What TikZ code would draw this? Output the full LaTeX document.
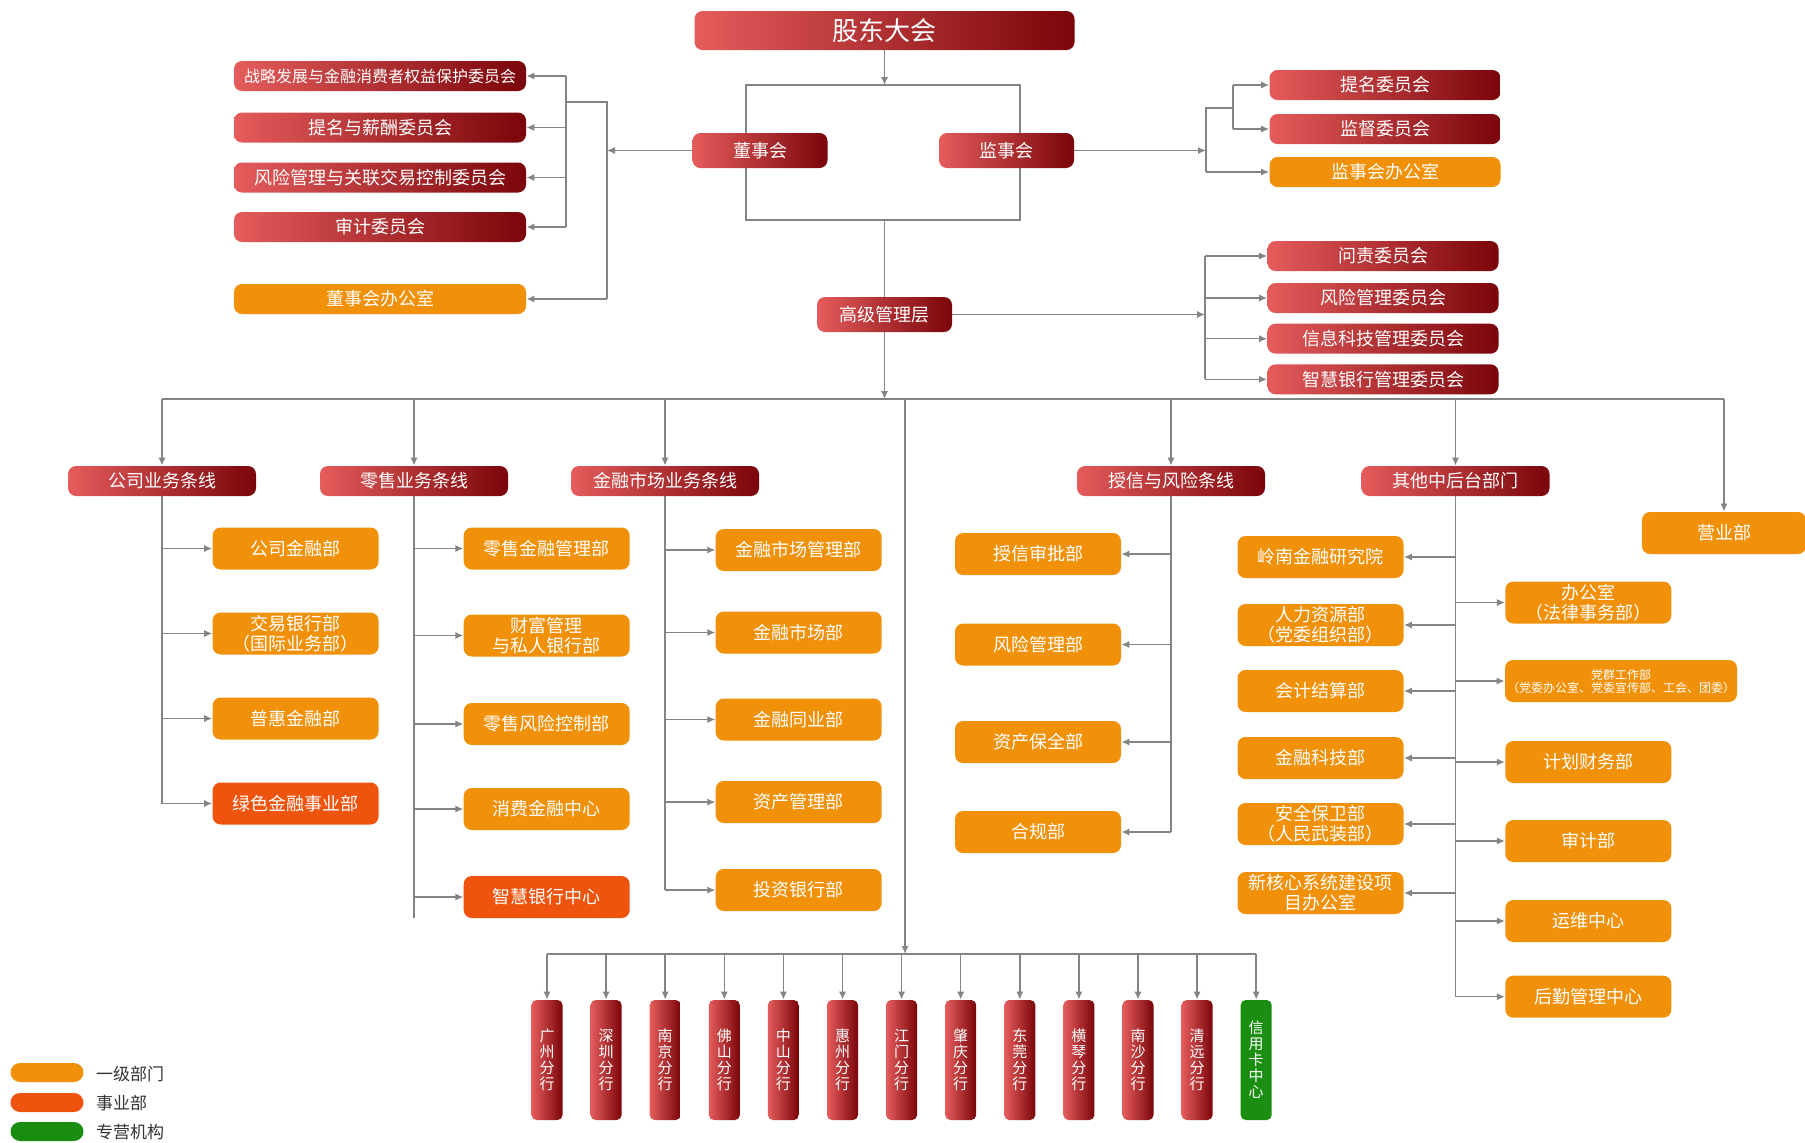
\documentclass[tikz,border=0pt]{standalone}
\usepackage{fontspec}
\setmainfont{Noto Sans CJK SC}
\usepackage{xcolor}
\usepackage{tikz}
\usetikzlibrary{arrows.meta,calc,backgrounds}
\definecolor{redL}{RGB}{229,92,92}
\definecolor{redR}{RGB}{122,5,10}
\definecolor{deptorange}{RGB}{241,145,10}
\definecolor{unitorange}{RGB}{238,84,14}
\definecolor{cardgreen}{RGB}{26,142,16}
\definecolor{linkgray}{RGB}{132,132,132}

\begin{document}
\begin{tikzpicture}[
  x=0.5pt,y=-0.5pt,
  font=\fontsize{9}{10}\selectfont,
  board/.style={rounded corners=4pt, left color=redL, right color=redR,
                text=white, align=center, inner sep=0pt},
  committee/.style={board, minimum width=146pt, minimum height=15pt},
  rcommittee/.style={board, minimum width=115.5pt, minimum height=15pt},
  organ/.style={board, minimum width=67.5pt, minimum height=17.5pt},
  bline/.style={board, minimum width=94pt, minimum height=15pt},
  dept/.style={rounded corners=4pt, fill=deptorange, text=white,
               align=center, inner sep=0pt, minimum width=83pt, minimum height=21pt},
  unit/.style={dept, fill=unitorange},
  branch/.style={board, rounded corners=2.5pt, minimum width=15.5pt,
                 minimum height=60pt, font=\fontsize{7.5}{8}\selectfont},
  card/.style={rounded corners=2.5pt, fill=cardgreen, text=white, align=center,
               inner sep=0pt, minimum width=15.5pt, minimum height=60pt,
               font=\fontsize{7.5}{8}\selectfont},
  pill/.style={rounded corners=4.75pt, minimum width=36.5pt, minimum height=9.5pt, inner sep=0pt},
  legendtext/.style={anchor=west, text=black!80, font=\fontsize{8.5}{10}\selectfont},
  line/.style={line width=0.75pt, draw=linkgray},
  arr/.style={-{Latex[length=4pt,width=3.6pt]}, line width=0.75pt, draw=linkgray}
]
\useasboundingbox (0,0) rectangle (1805,1142);

\node[board, minimum width=190pt, minimum height=19.5pt,
      font=\fontsize{13}{15}\selectfont] (gudong) at (884.5,30.5) {股东大会};
\node[organ] (dongshi) at (760,150.5) {董事会};
\node[organ] (jianshi) at (1006.5,150.5) {监事会};
\node[organ] (gaoguan) at (884.5,314.5) {高级管理层};

% board committees
\node[committee, font=\fontsize{8}{9}\selectfont] (dwy1) at (380,76) {战略发展与金融消费者权益保护委员会};
\node[committee] (dwy2) at (380,127.5) {提名与薪酬委员会};
\node[committee] (dwy3) at (380,177.5) {风险管理与关联交易控制委员会};
\node[committee] (dwy4) at (380,227) {审计委员会};
\node[dept, minimum width=146pt, minimum height=15pt] (dban) at (380,299) {董事会办公室};

% supervisory committees
\node[rcommittee] (jwy1) at (1385,85) {提名委员会};
\node[rcommittee] (jwy2) at (1385,129) {监督委员会};
\node[dept, minimum width=115.5pt, minimum height=15pt] (jban) at (1385,172) {监事会办公室};

% management committees
\node[rcommittee] (gwy1) at (1383,256) {问责委员会};
\node[rcommittee] (gwy2) at (1383,298) {风险管理委员会};
\node[rcommittee] (gwy3) at (1383,338.7) {信息科技管理委员会};
\node[rcommittee] (gwy4) at (1383,379.3) {智慧银行管理委员会};

% business lines
\node[bline] (gongsi) at (162,481) {公司业务条线};
\node[bline] (lingshou) at (414,481) {零售业务条线};
\node[bline] (jinrong) at (665,481) {金融市场业务条线};
\node[bline] (shouxin) at (1171,481) {授信与风险条线};
\node[bline] (qita) at (1455.5,481) {其他中后台部门};
\node[dept, minimum width=82pt] (yingye) at (1724,533) {营业部};

\node[dept] (gs1) at (295.6,548.5) {公司金融部};
\node[dept] (gs2) at (295.6,633.5) {交易银行部\\（国际业务部）};
\node[dept] (gs3) at (295.6,718.5) {普惠金融部};
\node[unit] (gs4) at (295.6,803.5) {绿色金融事业部};

\node[dept] (ls1) at (546.7,548.5) {零售金融管理部};
\node[dept] (ls2) at (546.7,635.5) {财富管理\\与私人银行部};
\node[dept] (ls3) at (546.7,724) {零售风险控制部};
\node[dept] (ls4) at (546.7,809) {消费金融中心};
\node[unit] (ls5) at (546.7,897) {智慧银行中心};

\node[dept] (jr1) at (798.7,550) {金融市场管理部};
\node[dept] (jr2) at (798.7,632.5) {金融市场部};
\node[dept] (jr3) at (798.7,719.5) {金融同业部};
\node[dept] (jr4) at (798.7,802) {资产管理部};
\node[dept] (jr5) at (798.7,890) {投资银行部};

\node[dept] (sx1) at (1038,554) {授信审批部};
\node[dept] (sx2) at (1038,644.5) {风险管理部};
\node[dept] (sx3) at (1038,742) {资产保全部};
\node[dept] (sx4) at (1038,832) {合规部};

\node[dept] (ql1) at (1320.5,557) {岭南金融研究院};
\node[dept] (ql2) at (1320.5,625) {人力资源部\\（党委组织部）};
\node[dept] (ql3) at (1320.5,691) {会计结算部};
\node[dept] (ql4) at (1320.5,758) {金融科技部};
\node[dept] (ql5) at (1320.5,824) {安全保卫部\\（人民武装部）};
\node[dept] (ql6) at (1320.5,893) {新核心系统建设项\\目办公室};

\node[dept] (qr1) at (1588.3,602.5) {办公室\\（法律事务部）};
\node[dept, minimum width=116pt, font=\fontsize{6}{6.5}\selectfont] (qr2) at (1621,681)
  {党群工作部\\（党委办公室、党委宣传部、工会、团委）};
\node[dept] (qr3) at (1588.3,762) {计划财务部};
\node[dept] (qr4) at (1588.3,841) {审计部};
\node[dept] (qr5) at (1588.3,921) {运维中心};
\node[dept] (qr6) at (1588.3,996.7) {后勤管理中心};

% branches
\foreach \city [count=\i from 0] in {广\\州\\分\\行, 深\\圳\\分\\行, 南\\京\\分\\行,
    佛\\山\\分\\行, 中\\山\\分\\行, 惠\\州\\分\\行, 江\\门\\分\\行, 肇\\庆\\分\\行,
    东\\莞\\分\\行, 横\\琴\\分\\行, 南\\沙\\分\\行, 清\\远\\分\\行}
  \node[branch] (br\i) at (547+\i*59.1,1060) {\city};
\node[card] (card) at (1256.2,1060) {信\\用\\卡\\中\\心};

% legend
\node[pill, fill=deptorange] (lg1) at (47,1072.5) {};
\node[pill, fill=unitorange] (lg2) at (47,1102.5) {};
\node[pill, fill=cardgreen] (lg3) at (47,1131.5) {};
\node[legendtext] (lgt1) at (89,1074) {一级部门};
\node[legendtext] (lgt2) at (89,1103) {事业部};
\node[legendtext] (lgt3) at (89,1132) {专营机构};

\begin{scope}[on background layer]
% top frame
\coordinate (ringNW) at (746,85);
\coordinate (ringSE) at (1020,220);
\draw[line] (ringNW) rectangle (ringSE);
\draw[arr] (gudong.south) -- (gudong.south |- ringNW);
\draw[line] (gudong.south |- ringSE) -- (gaoguan.north);

% board side
\coordinate (dOut) at (607,102);
\coordinate (dIn) at (566,102);
\draw[arr] (dongshi.west) -- (dongshi.west -| dOut);
\draw[line] (dIn) -- (dOut) -- (dOut |- dban);
\draw[arr] (dOut |- dban) -- (dban.east);
\draw[line] (dIn |- dwy1) -- (dIn |- dwy4);
\foreach \i in {1,...,4} \draw[arr] (dIn |- dwy\i) -- (dwy\i.east);

% supervisory side
\coordinate (jOut) at (1206,108);
\coordinate (jIn) at (1233,108);
\draw[arr] (jianshi.east) -- (jianshi.east -| jOut);
\draw[line] (jIn) -- (jOut) -- (jOut |- jban);
\draw[arr] (jOut |- jban) -- (jban.west);
\draw[line] (jIn |- jwy1) -- (jIn |- jwy2);
\foreach \i in {1,2} \draw[arr] (jIn |- jwy\i) -- (jwy\i.west);

% management side
\coordinate (gOut) at (1205,317);
\draw[arr] (gaoguan.east) -- (gaoguan.east -| gOut);
\draw[line] (gOut |- gwy1) -- (gOut |- gwy4);
\foreach \i in {1,...,4} \draw[arr] (gOut |- gwy\i) -- (gwy\i.west);

% main bus
\coordinate (busL) at (162,399);
\coordinate (busR) at (1724,399);
\coordinate (midtop) at (905,399);
\coordinate (midbot) at (905,954);
\draw[arr] (gaoguan.south) -- (gaoguan.south |- busL);
\draw[line] (busL) -- (busR);
\foreach \n in {gongsi,lingshou,jinrong,shouxin,qita,yingye}
  \draw[arr] (\n.north |- busL) -- (\n.north);
\draw[arr] (midtop) -- (midbot);

% columns
\draw[line] (gongsi.south) -- (gongsi.south |- gs4);
\foreach \i in {1,...,4} \draw[arr] (gongsi.south |- gs\i) -- (gs\i.west);
\draw[line] (lingshou.south) -- (lingshou.south |- ls5.south);
\foreach \i in {1,...,5} \draw[arr] (lingshou.south |- ls\i) -- (ls\i.west);
\draw[line] (jinrong.south) -- (jinrong.south |- jr5);
\foreach \i in {1,...,5} \draw[arr] (jinrong.south |- jr\i) -- (jr\i.west);
\draw[line] (shouxin.south) -- (shouxin.south |- sx4);
\foreach \i in {1,...,4} \draw[arr] (shouxin.south |- sx\i) -- (sx\i.east);
\draw[line] (qita.south) -- (qita.south |- qr6);
\foreach \i in {1,...,6} \draw[arr] (qita.south |- ql\i) -- (ql\i.east);
\foreach \i in {1,...,6} \draw[arr] (qita.south |- qr\i) -- (qr\i.west);

% branch bus
\draw[line] (br0.north |- midbot) -- (card.north |- midbot);
\foreach \i in {0,...,11} \draw[arr] (br\i.north |- midbot) -- (br\i.north);
\draw[arr] (card.north |- midbot) -- (card.north);
\end{scope}

\end{tikzpicture}
\end{document}
